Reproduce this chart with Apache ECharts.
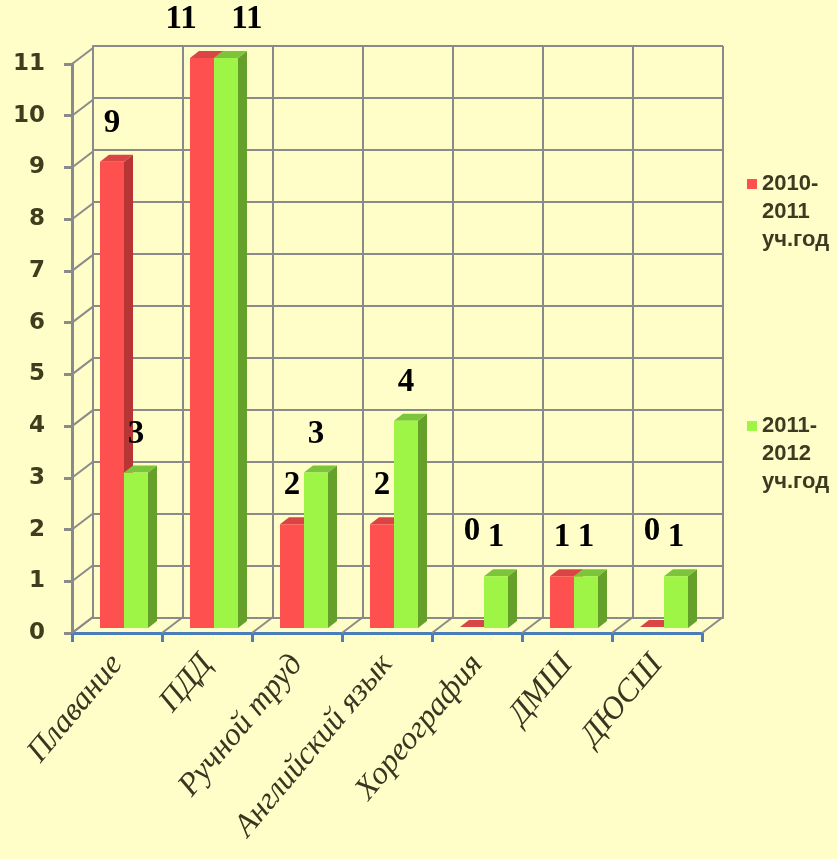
<!DOCTYPE html>
<html><head><meta charset="utf-8">
<script src="https://cdn.jsdelivr.net/npm/echarts@6/dist/echarts.min.js"></script>
<style>html,body{margin:0;padding:0;background:#fffdc8;}#c{width:837px;height:859px;}</style>
</head><body><div id="c"></div>
<script>
const categories = ['Плавание','ПДД','Ручной труд','Английский язык','Хореография','ДМШ','ДЮСШ'];
const series2010 = [9, 11, 2, 2, 0, 1, 0];
const series2011 = [3, 11, 3, 4, 1, 1, 1];
const seriesNames = ['2010-\n2011\nуч.год', '2011-\n2012\nуч.год'];
const yTicks = [0,1,2,3,4,5,6,7,8,9,10,11];

const RED = {front:'#ff5050', side:'#b93535', top:'#d94444'};
const GREEN = {front:'#9ef545', side:'#64a02a', top:'#7cc43a'};
const BAR_FRAC = 24/90, DDX = 9, DDY = -7, WDX = 21, WDY = -16;
const LABEL_FONT = 'bold 33px "Liberation Serif", "DejaVu Serif", serif';
const DIGIT_W = 16;

function barRender(col, isFirst) {
  return function(params, api) {
    const idx = api.value(0), v = api.value(1);
    const t = api.coord([idx, v]), b = api.coord([idx, 0]);
    const band = api.size([1, 0])[0];
    const w = band * BAR_FRAC;
    const x0 = isFirst ? t[0] - w : t[0];
    const x1 = x0 + w;
    let yt = t[1]; const yb = b[1];
    if (v === 0) yt = yb - 1;
    const children = [];
    children.push({type:'polygon', shape:{points:[[x1,yt],[x1+DDX,yt+DDY],[x1+DDX,yb+DDY],[x1,yb]]}, style:{fill:col.side}});
    children.push({type:'polygon', shape:{points:[[x0,yt],[x0+DDX,yt+DDY],[x1+DDX,yt+DDY],[x1,yt]]}, style:{fill:col.top}});
    if (v > 0) children.push({type:'rect', shape:{x:x0, y:yt, width:w, height:yb-yt}, style:{fill:col.front}});
    const txt = String(v);
    const tw = txt.length * DIGIT_W;
    let lx = (x0 + x1) / 2;
    if (tw > w) lx += (isFirst ? -1 : 1) * tw * 0.65;
    let ly = yt - 22;
    if (v === 0) ly = api.coord([idx, 1.55])[1];
    children.push({type:'text', style:{text:txt, x:lx, y:ly, textAlign:'center', textVerticalAlign:'bottom', font:LABEL_FONT, fill:'#000'}});
    return {type:'group', children};
  };
}

function diagRender(params, api) {
  const kind = api.value(0), val = api.value(1);
  const band = api.size([1, 0])[0];
  let p;
  if (kind === 0) {
    const c = api.coord([0, val]);
    p = [c[0] - band/2, c[1]];
  } else {
    const c = api.coord([0, 0]);
    p = [c[0] - band/2 + val*band, c[1]];
  }
  return {type:'line', shape:{x1:p[0], y1:p[1], x2:p[0]+WDX, y2:p[1]+WDY}, style:{stroke:'#8a8a8a', lineWidth:2}};
}
const diagData = yTicks.map(y => [0, y]).concat(categories.map((c,i)=>[1,i])).concat([[1, categories.length]]);

const chart = echarts.init(document.getElementById('c'));
chart.setOption({
  backgroundColor:'#fffdc8',
  animation:false,
  legend:{
    orient:'vertical', left:742, top:109, itemGap:102,
    icon:'rect', itemWidth:10, itemHeight:10,
    data:[{name:seriesNames[0], itemStyle:{color:RED.front}},{name:seriesNames[1], itemStyle:{color:GREEN.front}}],
    formatter: n => '\n\n' + n,
    textStyle:{fontFamily:'"Liberation Sans","Arial",sans-serif', fontWeight:'bold', fontSize:22, color:'#3e3a22', lineHeight:28}
  },
  grid:[
    {left:93, right:114, top:46, bottom:241},
    {left:72, right:135, top:64, bottom:226},
    {left:79, right:128, top:58, bottom:231}
  ],
  xAxis:[
    {type:'category', gridIndex:0, data:categories, axisLabel:{show:false, interval:0}, axisTick:{show:false},
     axisLine:{show:true, lineStyle:{color:'#8a8a8a', width:2}}, splitLine:{show:true, interval:0, lineStyle:{color:'#8a8a8a', width:2}}},
    {type:'category', gridIndex:1, data:categories,
     axisLine:{show:true, lineStyle:{color:'#4a7ebb', width:3}},
     axisTick:{show:true, interval:0, length:9, lineStyle:{color:'#4a7ebb', width:3}},
     axisLabel:{interval:0, rotate:50, margin:26, fontFamily:'"Liberation Serif","DejaVu Serif",serif', fontStyle:'italic', fontSize:32, color:'#3a3520'}},
    {type:'category', gridIndex:2, data:categories, show:false}
  ],
  yAxis:[
    {type:'value', gridIndex:0, min:0, max:11, interval:1, axisLabel:{show:false},
     axisLine:{show:true, lineStyle:{color:'#8a8a8a', width:2}}, axisTick:{show:false},
     splitLine:{show:true, lineStyle:{color:'#8a8a8a', width:2}}},
    {type:'value', gridIndex:1, min:0, max:11, interval:1,
     axisLine:{show:true, lineStyle:{color:'#8a8a8a', width:3}},
     axisTick:{show:true, length:8, lineStyle:{color:'#8a8a8a', width:3}},
     splitLine:{show:false},
     axisLabel:{margin:27, fontFamily:'"DejaVu Sans",sans-serif', fontWeight:'bold', fontSize:23, color:'#403c1e'}},
    {type:'value', gridIndex:2, min:0, max:11, interval:1, show:false, splitLine:{show:false}}
  ],
  series:[
    {type:'custom', name:'diag', xAxisIndex:1, yAxisIndex:1, data:diagData, renderItem:diagRender, silent:true, clip:false, z:1},
    {type:'custom', name:seriesNames[0], xAxisIndex:2, yAxisIndex:2, data:series2010.map((v,i)=>[i,v]), renderItem:barRender(RED,true), itemStyle:{color:RED.front}, clip:false, z:5},
    {type:'custom', name:seriesNames[1], xAxisIndex:2, yAxisIndex:2, data:series2011.map((v,i)=>[i,v]), renderItem:barRender(GREEN,false), itemStyle:{color:GREEN.front}, clip:false, z:5}
  ]
});
</script></body></html>
